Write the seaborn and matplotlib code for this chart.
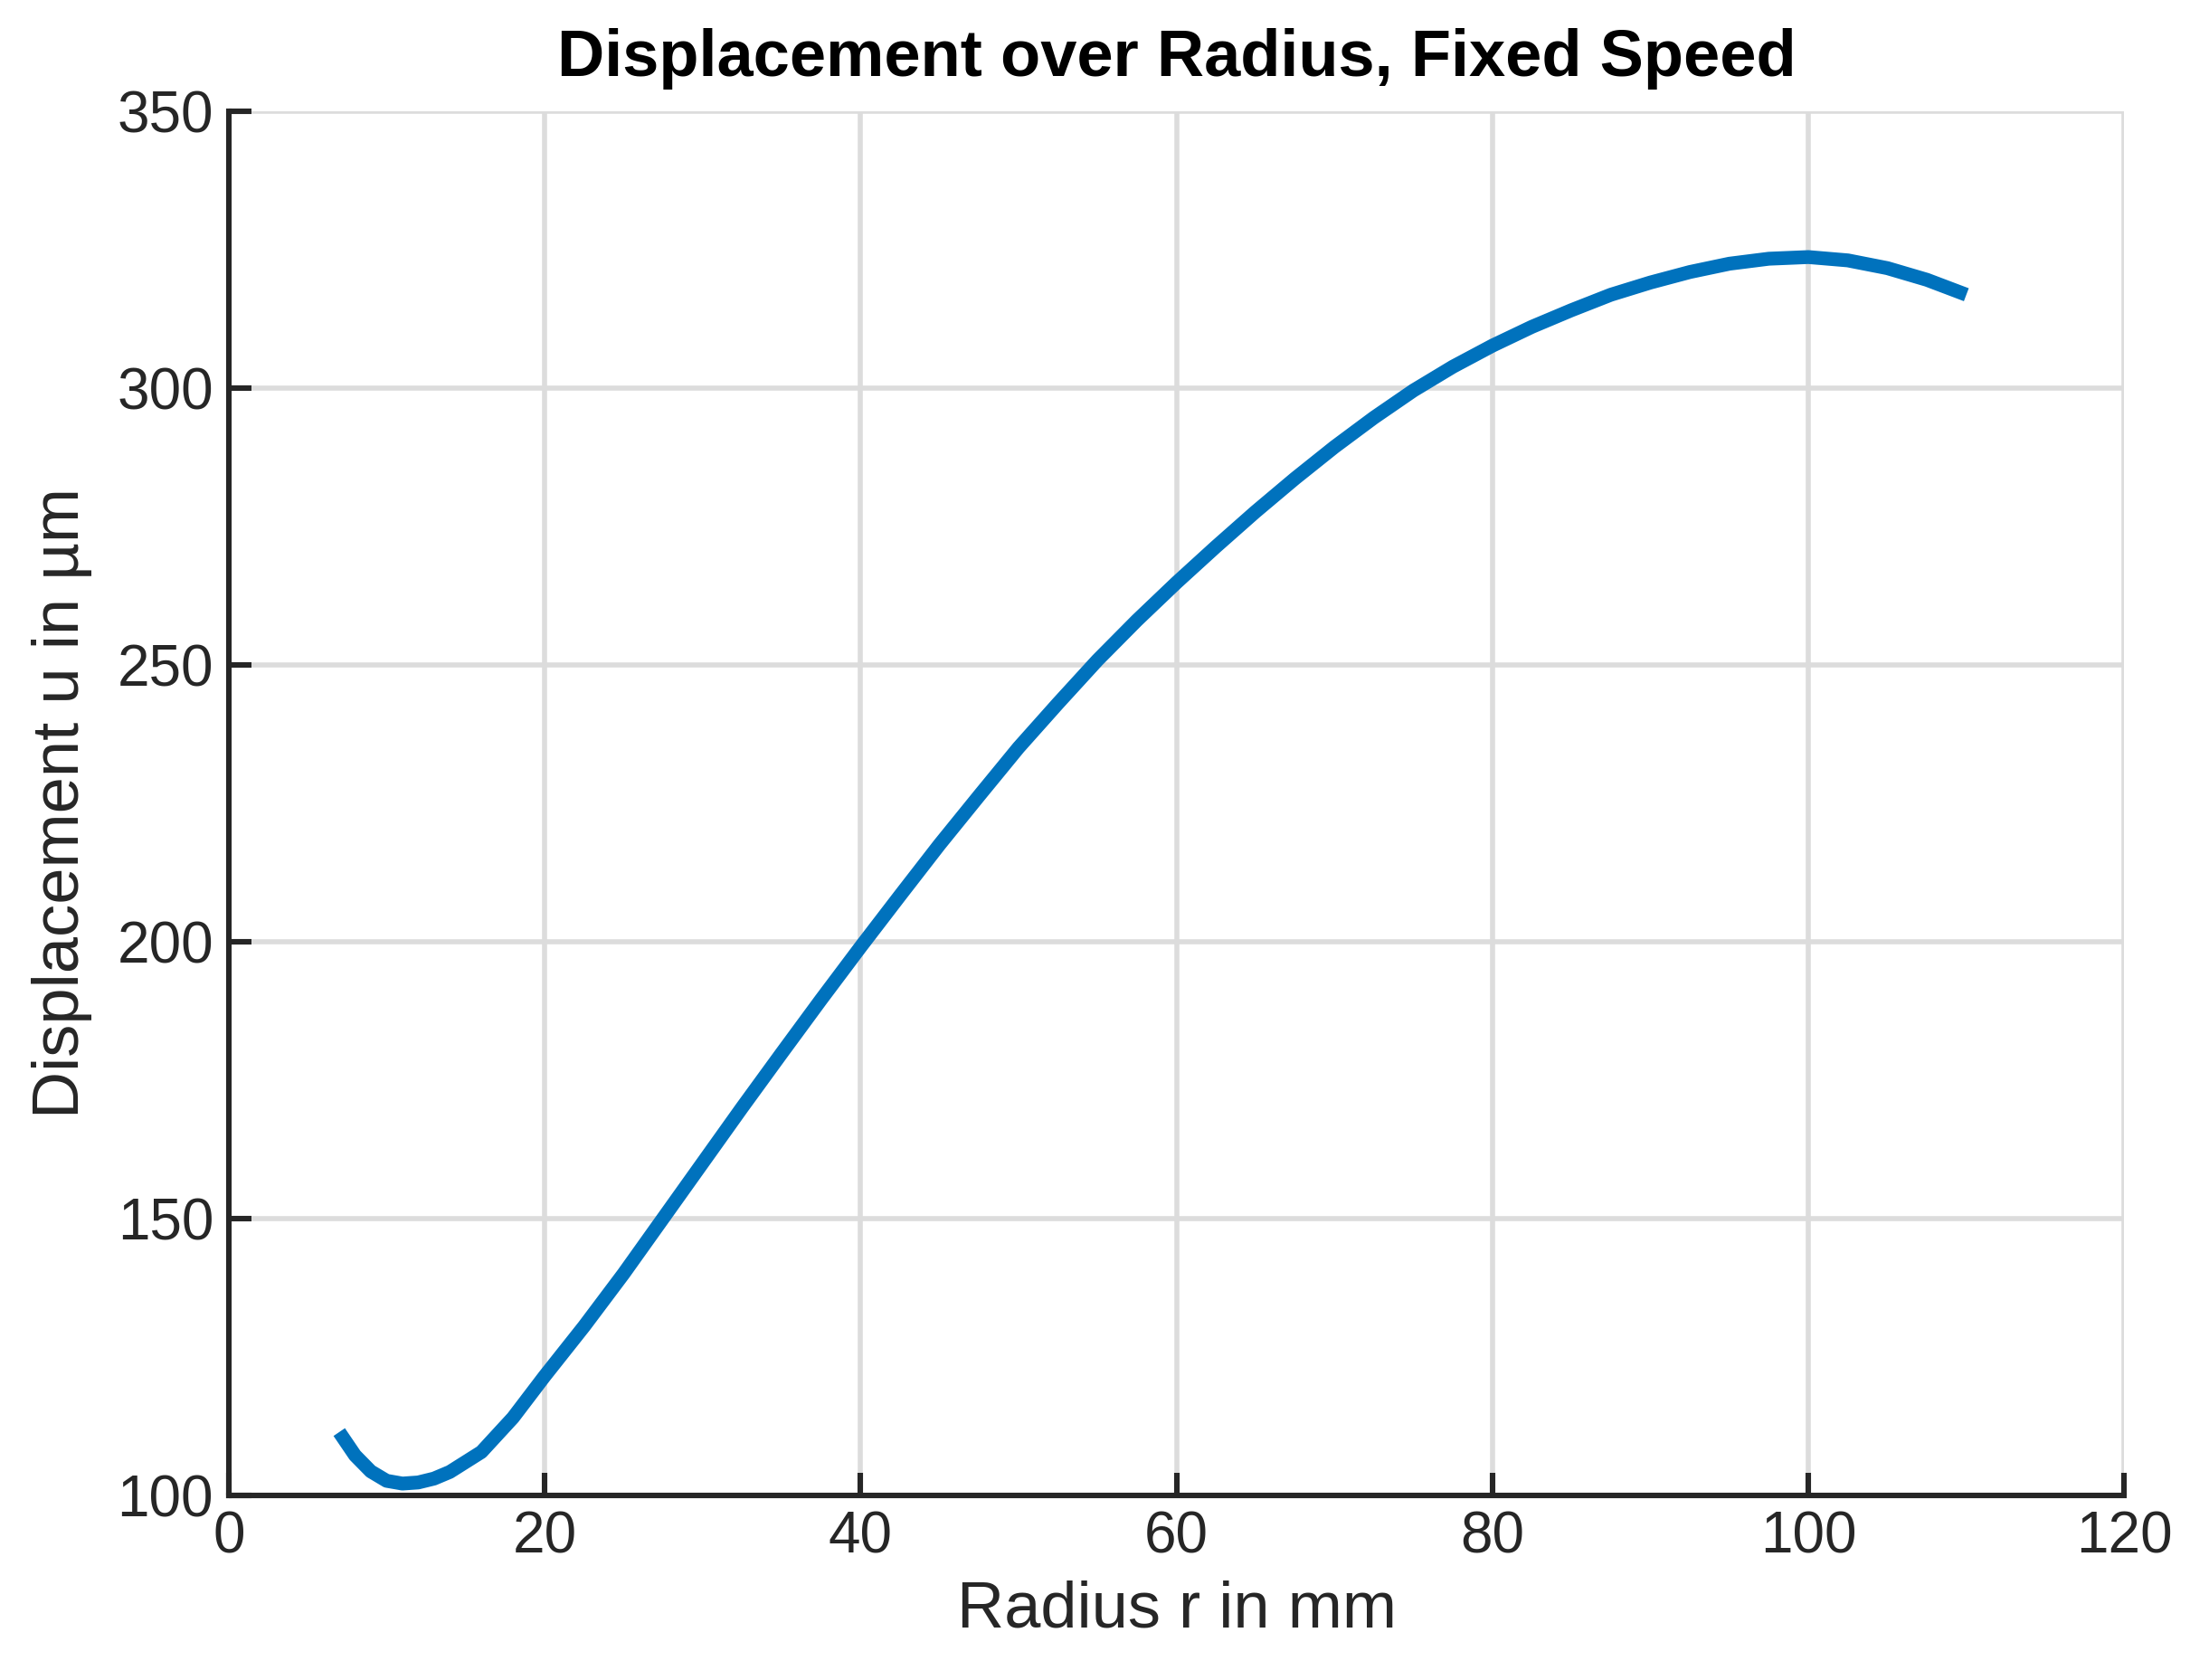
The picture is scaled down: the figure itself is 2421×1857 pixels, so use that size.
import numpy as np
import pandas as pd
import seaborn as sns
import matplotlib
matplotlib.use("Agg")
import matplotlib.pyplot as plt

radius = [7, 8, 9, 10, 11, 12, 13, 14, 16, 18, 20, 22.5, 25, 27.5, 30, 32.5, 35, 37.5, 40, 42.5, 45, 47.5, 50,
          52.5, 55, 57.5, 60, 62.5, 65, 67.5, 70, 72.5, 75, 77.5, 80, 82.5, 85, 87.5, 90, 92.5, 95, 97.5, 100,
          102.5, 105, 107.5, 110]
displacement = [111.4, 107.2, 104.3, 102.6, 102.1, 102.3, 103.0, 104.2, 107.8, 114.0, 121.5, 130.5, 140.0, 150.0,
                160.0, 170.0, 179.8, 189.5, 199.0, 208.3, 217.5, 226.3, 235.0, 243.0, 250.8, 258.0, 264.8,
                271.3, 277.6, 283.6, 289.3, 294.6, 299.5, 303.8, 307.6, 311.0, 314.0, 316.8, 319.0, 320.9,
                322.4, 323.3, 323.6, 323.0, 321.6, 319.5, 316.8]

df = pd.DataFrame({"r": radius, "u": displacement})

sns.set_theme(style="whitegrid")
plt.rcParams['font.family'] = ['Liberation Sans', 'DejaVu Sans']

fig = plt.figure(figsize=(12.105, 9.285), dpi=200)
ax = fig.add_axes([0.1044, 0.110, 0.8656, 0.824])
sns.lineplot(data=df, x="r", y="u", ax=ax, color="#0072BD", linewidth=5.5,
             solid_joinstyle="round", solid_capstyle="butt")

ax.set_xlim(0, 120)
ax.set_ylim(100, 350)
ax.set_xticks(range(0, 121, 20))
ax.set_yticks(range(100, 351, 50))
ax.grid(True, color="#dcdcdc", linewidth=2)
for s in ["top", "right"]:
    ax.spines[s].set_visible(False)
for s in ["left", "bottom"]:
    ax.spines[s].set_color("#262626")
    ax.spines[s].set_linewidth(2.2)
ax.tick_params(direction="in", length=9, width=2.2, colors="#262626", labelsize=23,
               bottom=True, left=True, pad=6)
ax.set_xlabel("Radius r in mm", fontsize=26, color="#262626", labelpad=6)
ax.set_ylabel("Displacement u in µm", fontsize=26, color="#262626", labelpad=10)
ax.set_title("Displacement over Radius, Fixed Speed", fontsize=26, fontweight="bold", color="black", pad=14)

fig.savefig("out.png", dpi=200, facecolor="white")
